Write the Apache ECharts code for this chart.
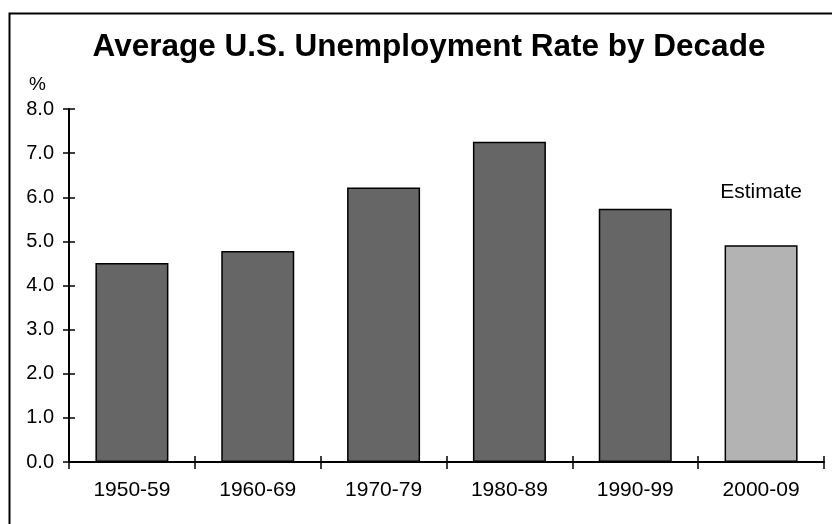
<!DOCTYPE html>
<html>
<head>
<meta charset="utf-8">
<script src="https://cdn.jsdelivr.net/npm/echarts@6/dist/echarts.min.js"></script>
<style>html,body{margin:0;padding:0;background:#fff}#c{width:832px;height:524px}</style>
</head>
<body>
<div id="c"></div>
<script>
var titleText = 'Average U.S. Unemployment Rate by Decade';
var categories = ['1950-59', '1960-69', '1970-79', '1980-89', '1990-99', '2000-09'];
var rates = [4.51, 4.78, 6.22, 7.26, 5.74, 4.91];
var isEstimate = [false, false, false, false, false, true];
var estimateLabel = 'Estimate';
var yUnit = '%';

var FONT = 'Liberation Sans, Arial, Helvetica, sans-serif';
var chart = echarts.init(document.getElementById('c'));
var barData = rates.map(function (v, i) {
  var item = { value: v, itemStyle: { color: isEstimate[i] ? '#b3b3b3' : '#666666' } };
  if (isEstimate[i]) {
    item.label = { show: true, position: 'top', distance: 43, formatter: estimateLabel,
      color: '#000', fontSize: 21, fontFamily: FONT };
  }
  return item;
});
var yBase = {
  type: 'value', min: 0, max: 8, interval: 1,
  splitLine: { show: false }
};
chart.setOption({
  animation: false,
  backgroundColor: '#fff',
  title: {
    text: titleText, left: 424, top: 26, textAlign: 'center',
    textStyle: { fontFamily: FONT, fontSize: 31.5, fontWeight: 'bold', color: '#000' }
  },
  graphic: [
    { type: 'rect', left: 7, top: 11, shape: { width: 1000, height: 1000 },
      style: { fill: 'none', stroke: '#000', lineWidth: 2 }, silent: true },
    { type: 'text', left: 29, top: 75, style: { text: yUnit, fontSize: 19, fontFamily: FONT, fill: '#000' } }
  ],
  grid: { left: 69, right: 8, top: 109, bottom: 62, containLabel: false },
  xAxis: [{
    type: 'category', data: categories, boundaryGap: true,
    axisLine: { onZero: false, lineStyle: { color: '#000', width: 2 } },
    axisTick: { show: true, interval: 0, alignWithLabel: false, length: 7, lineStyle: { color: '#000', width: 1.5 } },
    axisLabel: { interval: 0, margin: 18, color: '#000', fontSize: 21, fontFamily: FONT }
  }, {
    type: 'category', data: categories, boundaryGap: true, position: 'bottom',
    axisLine: { show: false, onZero: false },
    axisTick: { show: true, inside: true, interval: 0, length: 6, lineStyle: { color: '#000', width: 1.5 } },
    axisLabel: { show: false }
  }],
  yAxis: [Object.assign({}, yBase, {
    axisLine: { show: true, lineStyle: { color: '#000', width: 2 } },
    axisTick: { show: true, length: 6, lineStyle: { color: '#000', width: 1.5 } },
    axisLabel: { margin: 15, color: '#000', fontSize: 20, fontFamily: FONT,
      formatter: function (v) { return v.toFixed(1); } }
  }), Object.assign({}, yBase, {
    position: 'left',
    axisLine: { show: false },
    axisTick: { show: true, inside: true, length: 6, lineStyle: { color: '#000', width: 1.5 } },
    axisLabel: { show: false }
  })],
  series: [{
    type: 'bar', data: barData, barWidth: 73,
    itemStyle: { borderColor: '#000', borderWidth: 1.5 }
  }]
});
</script>
</body>
</html>
